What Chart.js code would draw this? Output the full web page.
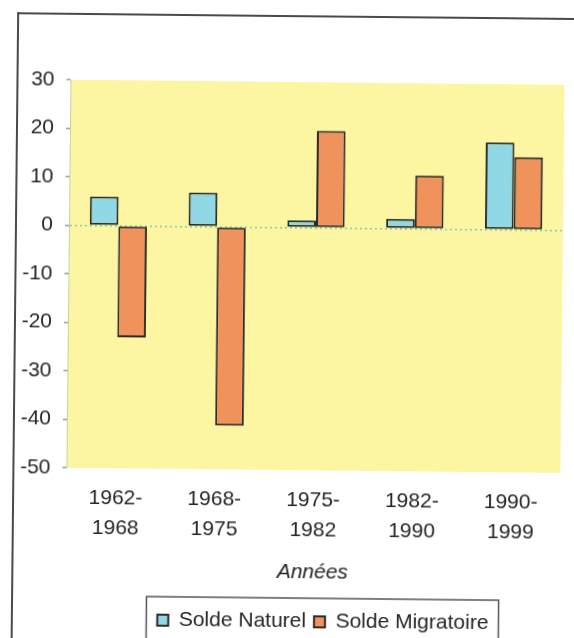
<!DOCTYPE html>
<html>
<head>
<meta charset="utf-8">
<script src="https://cdn.jsdelivr.net/npm/chart.js@4/dist/chart.umd.min.js"></script>
<style>
  html, body { margin: 0; padding: 0; background: #fff; overflow: hidden; }
  #page { position: relative; width: 574px; height: 638px; transform: rotate(0.6deg); transform-origin: 287px 319px; }
  #frame { position: absolute; left: 14px; top: 15px; width: 620px; height: 680px;
           border-left: 2px solid #4a4a4a; border-top: 2px solid #4a4a4a; }
  #chart { position: absolute; left: 0; top: 0; }
</style>
</head>
<body>
<div id="page">
  <div id="frame"></div>
  <canvas id="chart" width="574" height="650"></canvas>
</div>
<script>
// Population change per census period (per thousand)
const periods = [['1962-', '1968'], ['1968-', '1975'], ['1975-', '1982'], ['1982-', '1990'], ['1990-', '1999']];
const soldeNaturel = [6, 7, 1.5, 2, 18];
const soldeMigratoire = [-23, -41, 20, 11, 15];
const yTicks = [30, 20, 10, 0, -10, -20, -30, -40, -50];

const FONT = "'Liberation Sans', Arial, Helvetica, sans-serif";
const TEXT = '#262626';

// Pale yellow plot background
const plotBackground = {
  id: 'plotBackground',
  beforeDraw(chart) {
    const { ctx, chartArea: a } = chart;
    ctx.save();
    ctx.fillStyle = '#fcf5a2';
    ctx.fillRect(a.left, a.top, a.right - a.left, a.bottom - a.top);
    ctx.restore();
  }
};

// Legend sits right of centre, inside a thin frame
const legendFrame = {
  id: 'legendFrame',
  afterUpdate(chart) {
    const lg = chart.legend;
    if (!lg) return;
    lg.left += 45;
    lg.right += 45;
    lg.adjustHitBoxes();
  },
  afterDraw(chart) {
    const lg = chart.legend;
    if (!lg || !lg.legendHitBoxes || !lg.legendHitBoxes.length) return;
    const boxes = lg.legendHitBoxes;
    const left = boxes[0].left - 11;
    const last = boxes[boxes.length - 1];
    const right = last.left + last.width + 10;
    const top = lg.top - 5;
    const { ctx } = chart;
    ctx.save();
    ctx.strokeStyle = '#555';
    ctx.lineWidth = 1.5;
    ctx.beginPath();
    ctx.moveTo(left, chart.height);
    ctx.lineTo(left, top);
    ctx.lineTo(right, top);
    ctx.lineTo(right, chart.height);
    ctx.stroke();
    ctx.restore();
  }
};

new Chart(document.getElementById('chart'), {
  type: 'bar',
  data: {
    labels: periods,
    datasets: [
      {
        label: 'Solde Naturel',
        data: soldeNaturel,
        backgroundColor: '#90d8e5',
        borderColor: '#2b2b2b',
        borderWidth: 2,
        borderSkipped: false
      },
      {
        label: 'Solde Migratoire',
        data: soldeMigratoire,
        backgroundColor: '#f0925b',
        borderColor: '#2b2b2b',
        borderWidth: 2,
        borderSkipped: false
      }
    ]
  },
  options: {
    responsive: false,
    animation: false,
    devicePixelRatio: 1,
    layout: { padding: { left: 0, right: 12, top: 82, bottom: 8 } },
    datasets: { bar: { categoryPercentage: 0.58, barPercentage: 1.0 } },
    plugins: {
      tooltip: { enabled: false },
      legend: {
        position: 'bottom',
        labels: {
          color: TEXT,
          font: { family: FONT, size: 21 },
          boxWidth: 11,
          boxHeight: 11,
          padding: 8
        }
      }
    },
    scales: {
      x: {
        grid: { display: false },
        border: { display: false },
        ticks: {
          color: TEXT,
          font: { family: FONT, size: 21, lineHeight: 1.43 },
          padding: 7,
          maxRotation: 0,
          autoSkip: false
        },
        title: {
          display: true,
          text: 'Années',
          color: TEXT,
          font: { family: FONT, size: 21, style: 'italic' },
          padding: { top: 0, bottom: 18 }
        },
        afterFit(scale) { scale.height = 133; }
      },
      y: {
        min: -50,
        max: 30,
        afterBuildTicks(scale) { scale.ticks = yTicks.map(v => ({ value: v })); },
        grid: {
          drawOnChartArea: true,
          color: ctx => (ctx.tick && ctx.tick.value === 0) ? '#86c8b2' : 'rgba(0,0,0,0)',
          tickColor: '#9a9a9a',
          tickLength: 4,
          lineWidth: 1.5
        },
        border: { display: true, color: 'rgba(140,190,160,0.55)', dash: [2, 3] },
        ticks: {
          color: TEXT,
          font: { family: FONT, size: 21 },
          padding: 12
        },
        afterFit(scale) { scale.width = 68; }
      }
    }
  },
  plugins: [plotBackground, legendFrame]
});
</script>
</body>
</html>
